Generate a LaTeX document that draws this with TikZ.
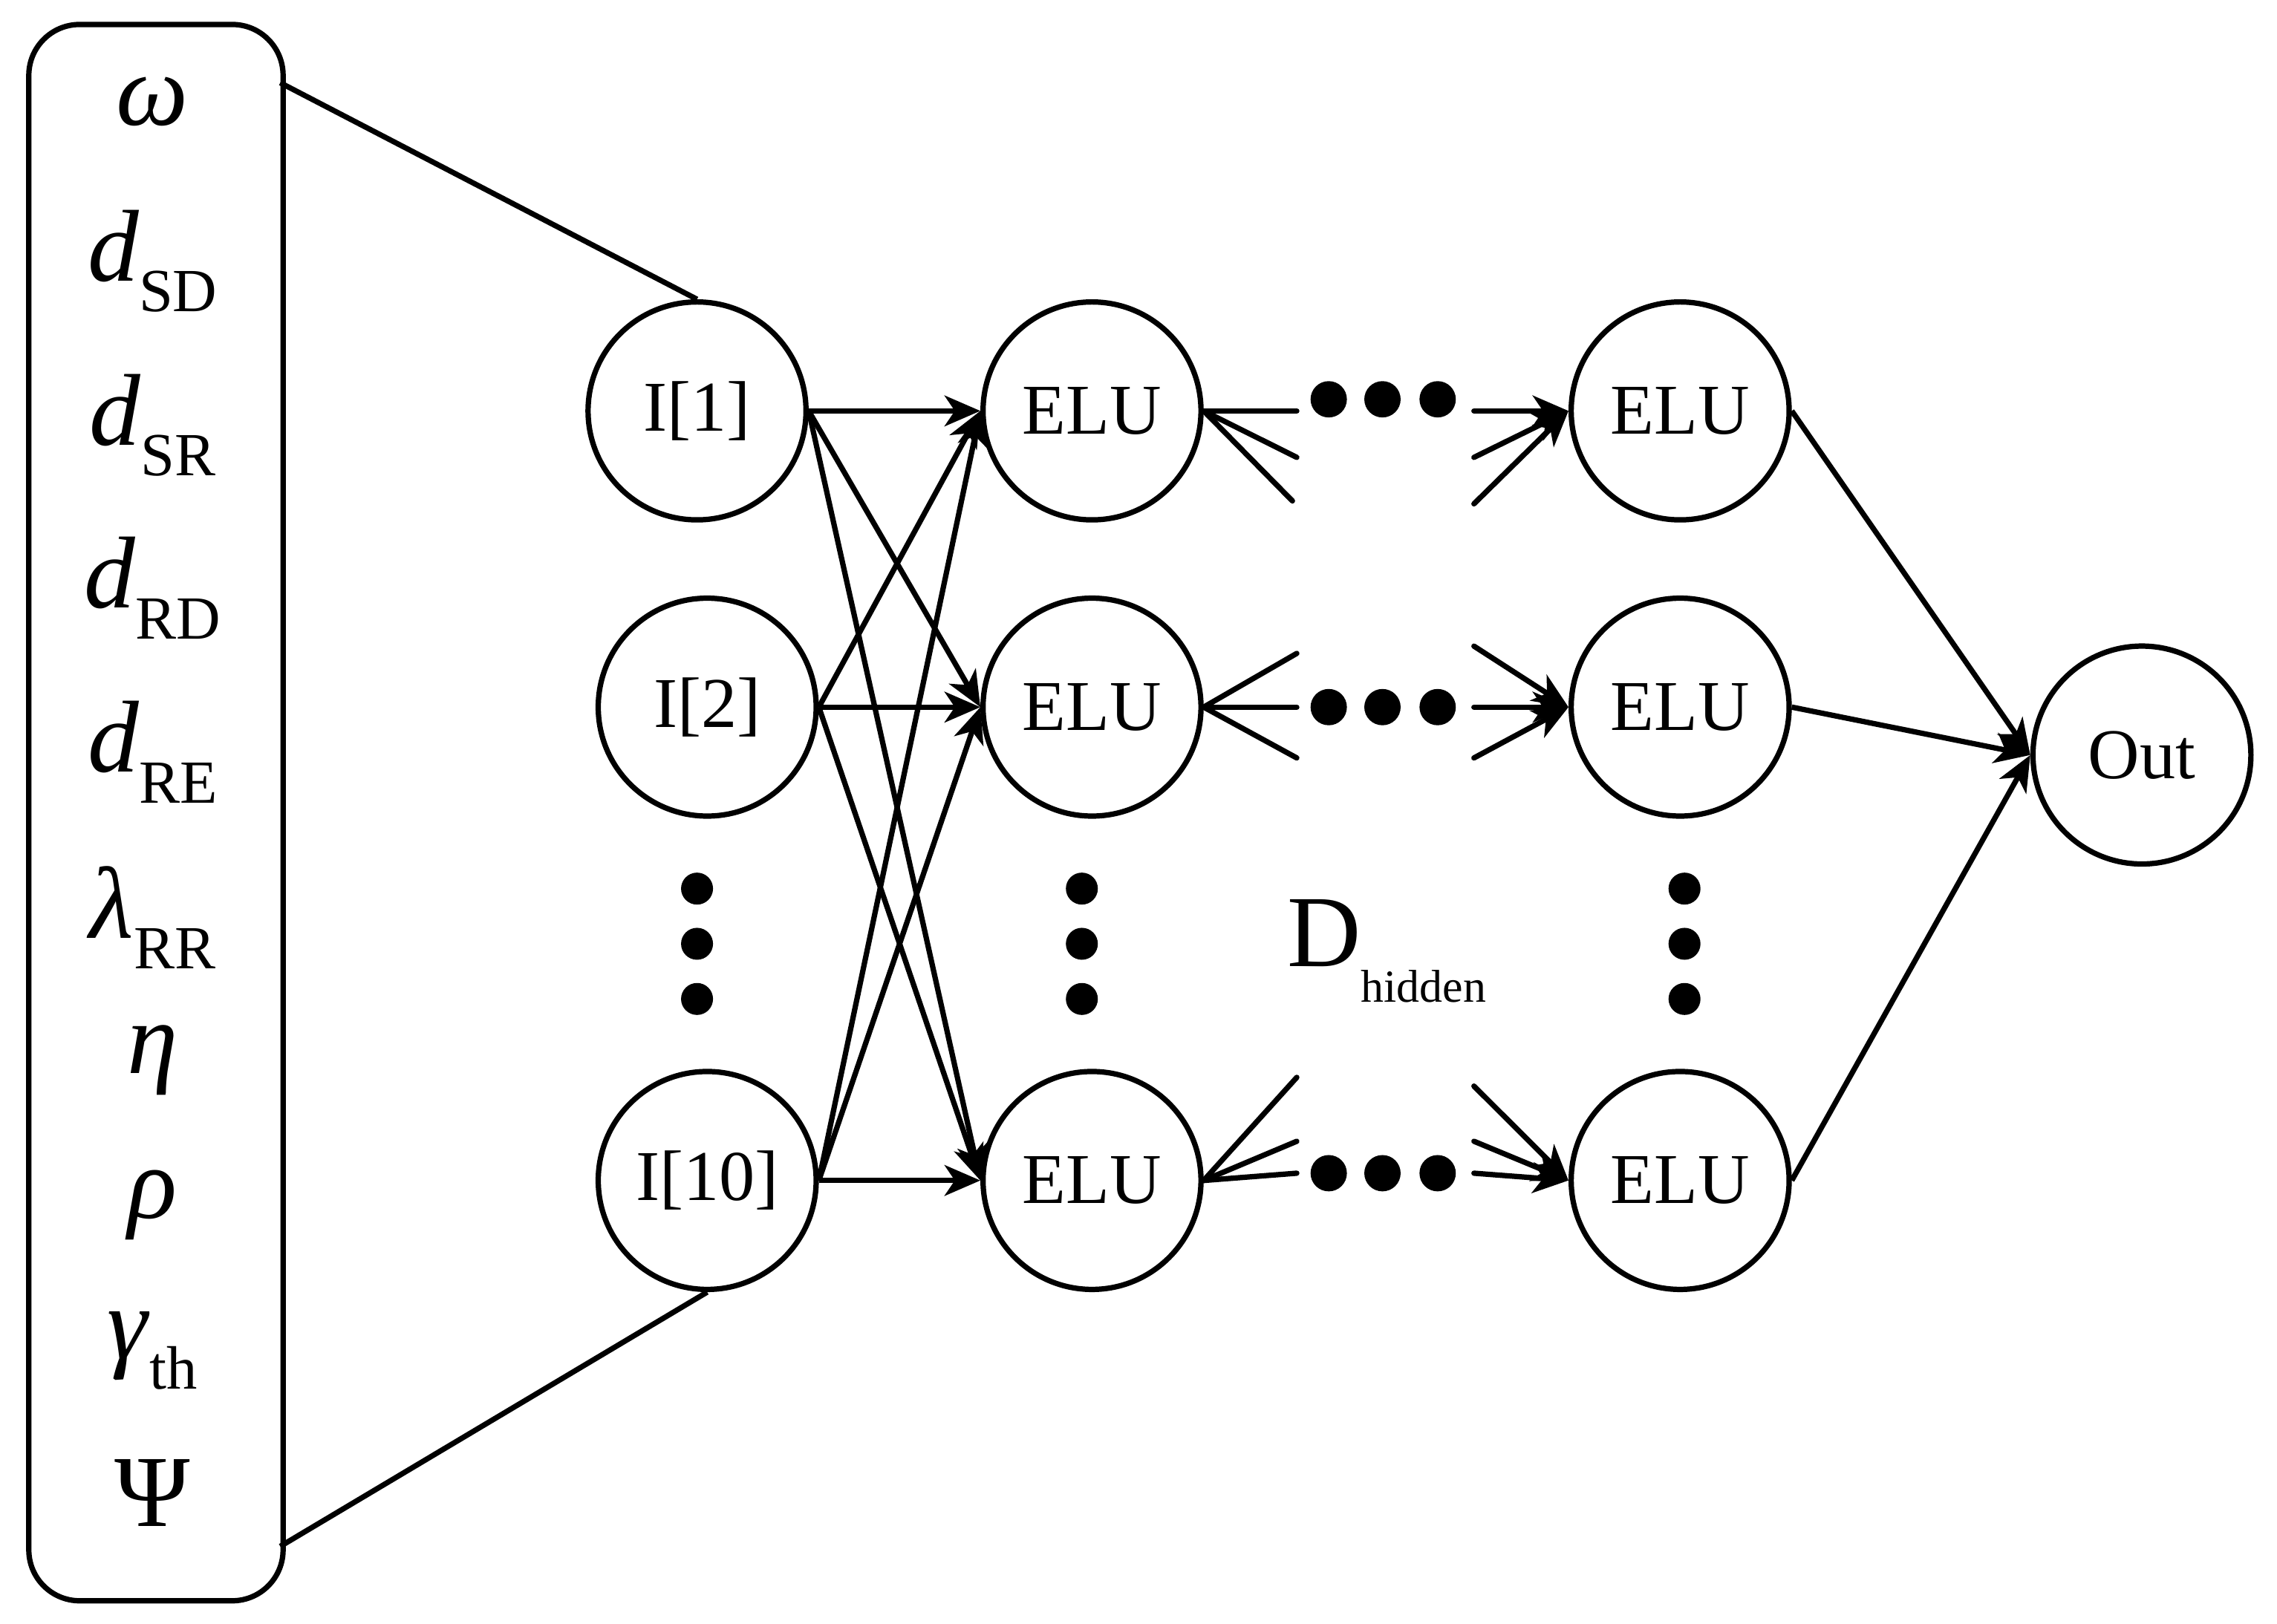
\documentclass[tikz,border=0pt]{standalone}
\usepackage{fontspec}
\setmainfont{Liberation Serif}
\usetikzlibrary{arrows.meta}
\newcommand{\lab}[2]{\textit{#1}\raisebox{-0.3em}{\fontsize{12}{12}\selectfont #2}}
\begin{document}
\begin{tikzpicture}[x=0.01cm,y=-0.01cm,line width=1.05pt,
  neu/.style={circle,draw,line width=1.05pt,minimum size=1.5cm,inner sep=0pt,font=\fontsize{14}{14}\selectfont},
  arr/.style={-{Stealth[length=7pt,width=6pt,inset=2pt]}},
  fan/.style={line cap=round},
  inp/.style={font=\fontsize{20}{20}\selectfont},
  dot/.style={circle,fill,inner sep=0pt,minimum size=0.22cm}]
\useasboundingbox (0,0) rectangle (1568,1118);
\node[draw,rounded corners=0.35cm,line width=1.05pt,minimum width=1.75cm,minimum height=10.85cm,anchor=north west] (box) at (18,15) {};
\coordinate (bt) at (193,57);
\coordinate (bb) at (193,1065);
\node[inp] (l1) at (105,70) {\textit{ω}};
\node[inp] (l2) at (105,180) {\lab{d}{SD}};
\node[inp] (l3) at (105,293) {\lab{d}{SR}};
\node[inp] (l4) at (105,405) {\lab{d}{RD}};
\node[inp] (l5) at (105,518) {\lab{d}{RE}};
\node[inp] (l6) at (105,632) {\lab{λ}{RR}};
\node[inp] (l7) at (105,730) {\textit{η}};
\node[inp] (l8) at (105,830) {\textit{ρ}};
\node[inp] (l9) at (105,930) {\lab{γ}{th}};
\node[inp] (l10) at (105,1028) {Ψ};

\node[neu] (i1) at (480,283) {I[1]};
\node[neu] (i2) at (487,487) {I[2]};
\node[neu] (i3) at (487,813) {I[10]};
\node[neu] (a1) at (752,283) {ELU};
\node[neu] (a2) at (752,487) {ELU};
\node[neu] (a3) at (752,813) {ELU};
\node[neu] (b1) at (1157,283) {ELU};
\node[neu] (b2) at (1157,487) {ELU};
\node[neu] (b3) at (1157,813) {ELU};
\node[neu] (out) at (1475,520) {Out};

\draw (bt) -- (i1.north);
\draw (bb) -- (i3.south);
\foreach \i in {i1,i2,i3}{\foreach \a in {a1,a2,a3}{\draw[arr] (\i.east) -- (\a.west);}}
\foreach \b in {b1,b2,b3}{\draw[arr] (\b.east) -- (out.west);}

% dots
\foreach \x/\n in {480/p,745/q,1160/r}{
  \node[dot] (\n1) at (\x,612) {};
  \node[dot] (\n2) at (\x,650) {};
  \node[dot] (\n3) at (\x,688) {};}
\foreach \y/\n in {275/h,487/k,808/m}{
  \node[dot,minimum width=0.2cm,minimum height=0.25cm] (\n1) at (915,\y) {};
  \node[dot,minimum width=0.2cm,minimum height=0.25cm] (\n2) at (952,\y) {};
  \node[dot,minimum width=0.2cm,minimum height=0.25cm] (\n3) at (990,\y) {};}
\node[font=\fontsize{20}{20}\selectfont] (dh) at (955,655) {D\raisebox{-0.35em}{\fontsize{9}{9}\selectfont hidden}};

% fan lines
\coordinate (f11) at (893,283); \coordinate (f12) at (893,315); \coordinate (f13) at (890,345);
\coordinate (g11) at (1015,283); \coordinate (g12) at (1015,315); \coordinate (g13) at (1015,347);
\coordinate (f21) at (893,450); \coordinate (f22) at (893,487); \coordinate (f23) at (893,522);
\coordinate (g21) at (1015,445); \coordinate (g22) at (1015,487); \coordinate (g23) at (1015,522);
\coordinate (f31) at (893,742); \coordinate (f32) at (893,786); \coordinate (f33) at (893,808);
\coordinate (g31) at (1015,748); \coordinate (g32) at (1015,786); \coordinate (g33) at (1015,808);
\foreach \r in {1,2,3}{
  \foreach \k in {1,2,3}{
    \draw[fan] (a\r.east) -- (f\r\k);
    \draw[fan,arr] (g\r\k) -- (b\r.west);}}
\end{tikzpicture}
\end{document}
